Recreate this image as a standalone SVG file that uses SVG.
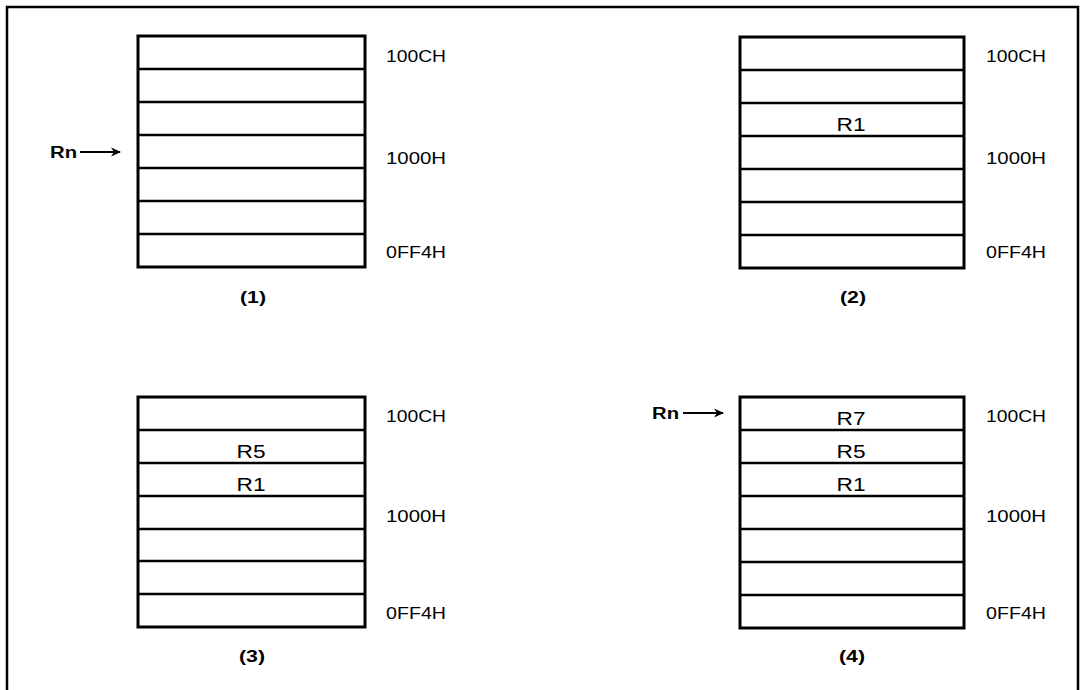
<svg xmlns="http://www.w3.org/2000/svg" width="1086" height="690" viewBox="0 0 1086 690">
<style>
.frame{fill:none;stroke:#000;stroke-width:2.5}
.box{fill:#fff;stroke:#000;stroke-width:3}
.sep{stroke:#000;stroke-width:2.5}
.lbl{font-family:"Liberation Sans",Arial,sans-serif;font-size:16px;fill:#000}
.reg{font-family:"Liberation Sans",Arial,sans-serif;font-size:18px;fill:#000;text-anchor:middle}
.bold{font-family:"Liberation Sans",Arial,sans-serif;font-size:16px;font-weight:bold;fill:#000}
.cap{font-family:"Liberation Sans",Arial,sans-serif;font-size:16px;font-weight:bold;fill:#000;text-anchor:middle}
.arr{stroke:#000;stroke-width:1.8;fill:none}
</style>
<defs>
<marker id="ah" viewBox="0 0 10 10" refX="9" refY="5" markerWidth="10" markerHeight="10" markerUnits="userSpaceOnUse" orient="auto">
<path d="M0,0.5 L10,5 L0,9.5 L3,5 Z" fill="#000"/>
</marker>
</defs>
<rect width="1086" height="690" fill="#fff"/>
<path class="frame" d="M7,695 L7,7 L1078,7 L1078,695"/>

<g id="stack1">
<rect class="box" x="138" y="36" width="227" height="231"/>
<line class="sep" x1="138" y1="69" x2="365" y2="69"/>
<line class="sep" x1="138" y1="102" x2="365" y2="102"/>
<line class="sep" x1="138" y1="135" x2="365" y2="135"/>
<line class="sep" x1="138" y1="168" x2="365" y2="168"/>
<line class="sep" x1="138" y1="201" x2="365" y2="201"/>
<line class="sep" x1="138" y1="234" x2="365" y2="234"/>
<text class="lbl" x="386" y="62" textLength="60" lengthAdjust="spacingAndGlyphs">100CH</text>
<text class="lbl" x="386" y="164" textLength="60" lengthAdjust="spacingAndGlyphs">1000H</text>
<text class="lbl" x="386" y="258" textLength="60" lengthAdjust="spacingAndGlyphs">0FF4H</text>
<text class="cap" x="253" y="303" textLength="26" lengthAdjust="spacingAndGlyphs">(1)</text>
</g>

<g id="stack2">
<rect class="box" x="740" y="37" width="224" height="231"/>
<line class="sep" x1="740" y1="70" x2="964" y2="70"/>
<line class="sep" x1="740" y1="103" x2="964" y2="103"/>
<line class="sep" x1="740" y1="136" x2="964" y2="136"/>
<line class="sep" x1="740" y1="169" x2="964" y2="169"/>
<line class="sep" x1="740" y1="202" x2="964" y2="202"/>
<line class="sep" x1="740" y1="235" x2="964" y2="235"/>
<text class="reg" x="851" y="131" textLength="29" lengthAdjust="spacingAndGlyphs">R1</text>
<text class="lbl" x="986" y="62" textLength="60" lengthAdjust="spacingAndGlyphs">100CH</text>
<text class="lbl" x="986" y="164" textLength="60" lengthAdjust="spacingAndGlyphs">1000H</text>
<text class="lbl" x="986" y="258" textLength="60" lengthAdjust="spacingAndGlyphs">0FF4H</text>
<text class="cap" x="853" y="303" textLength="26" lengthAdjust="spacingAndGlyphs">(2)</text>
</g>

<g id="stack3">
<rect class="box" x="138" y="397" width="227" height="230"/>
<line class="sep" x1="138" y1="430" x2="365" y2="430"/>
<line class="sep" x1="138" y1="463" x2="365" y2="463"/>
<line class="sep" x1="138" y1="496" x2="365" y2="496"/>
<line class="sep" x1="138" y1="529" x2="365" y2="529"/>
<line class="sep" x1="138" y1="561" x2="365" y2="561"/>
<line class="sep" x1="138" y1="594" x2="365" y2="594"/>
<text class="reg" x="251" y="458" textLength="29" lengthAdjust="spacingAndGlyphs">R5</text>
<text class="reg" x="251" y="491" textLength="29" lengthAdjust="spacingAndGlyphs">R1</text>
<text class="lbl" x="386" y="422" textLength="60" lengthAdjust="spacingAndGlyphs">100CH</text>
<text class="lbl" x="386" y="522" textLength="60" lengthAdjust="spacingAndGlyphs">1000H</text>
<text class="lbl" x="386" y="619" textLength="60" lengthAdjust="spacingAndGlyphs">0FF4H</text>
<text class="cap" x="252" y="662" textLength="26" lengthAdjust="spacingAndGlyphs">(3)</text>
</g>

<g id="stack4">
<rect class="box" x="740" y="397" width="224" height="231"/>
<line class="sep" x1="740" y1="430" x2="964" y2="430"/>
<line class="sep" x1="740" y1="463" x2="964" y2="463"/>
<line class="sep" x1="740" y1="496" x2="964" y2="496"/>
<line class="sep" x1="740" y1="529" x2="964" y2="529"/>
<line class="sep" x1="740" y1="562" x2="964" y2="562"/>
<line class="sep" x1="740" y1="595" x2="964" y2="595"/>
<text class="reg" x="851" y="425" textLength="29" lengthAdjust="spacingAndGlyphs">R7</text>
<text class="reg" x="851" y="458" textLength="29" lengthAdjust="spacingAndGlyphs">R5</text>
<text class="reg" x="851" y="491" textLength="29" lengthAdjust="spacingAndGlyphs">R1</text>
<text class="lbl" x="986" y="422" textLength="60" lengthAdjust="spacingAndGlyphs">100CH</text>
<text class="lbl" x="986" y="522" textLength="60" lengthAdjust="spacingAndGlyphs">1000H</text>
<text class="lbl" x="986" y="619" textLength="60" lengthAdjust="spacingAndGlyphs">0FF4H</text>
<text class="cap" x="852" y="662" textLength="26" lengthAdjust="spacingAndGlyphs">(4)</text>
</g>

<g id="pointer1">
<text class="bold" x="50" y="158" textLength="27" lengthAdjust="spacingAndGlyphs">Rn</text>
</g>
<g id="pointer4">
<text class="bold" x="652" y="419" textLength="27" lengthAdjust="spacingAndGlyphs">Rn</text>
</g>

<g id="connectors">
<line class="arr" x1="80" y1="152" x2="120" y2="152" marker-end="url(#ah)"/>
<line class="arr" x1="683" y1="413" x2="723" y2="413" marker-end="url(#ah)"/>
</g>
</svg>
